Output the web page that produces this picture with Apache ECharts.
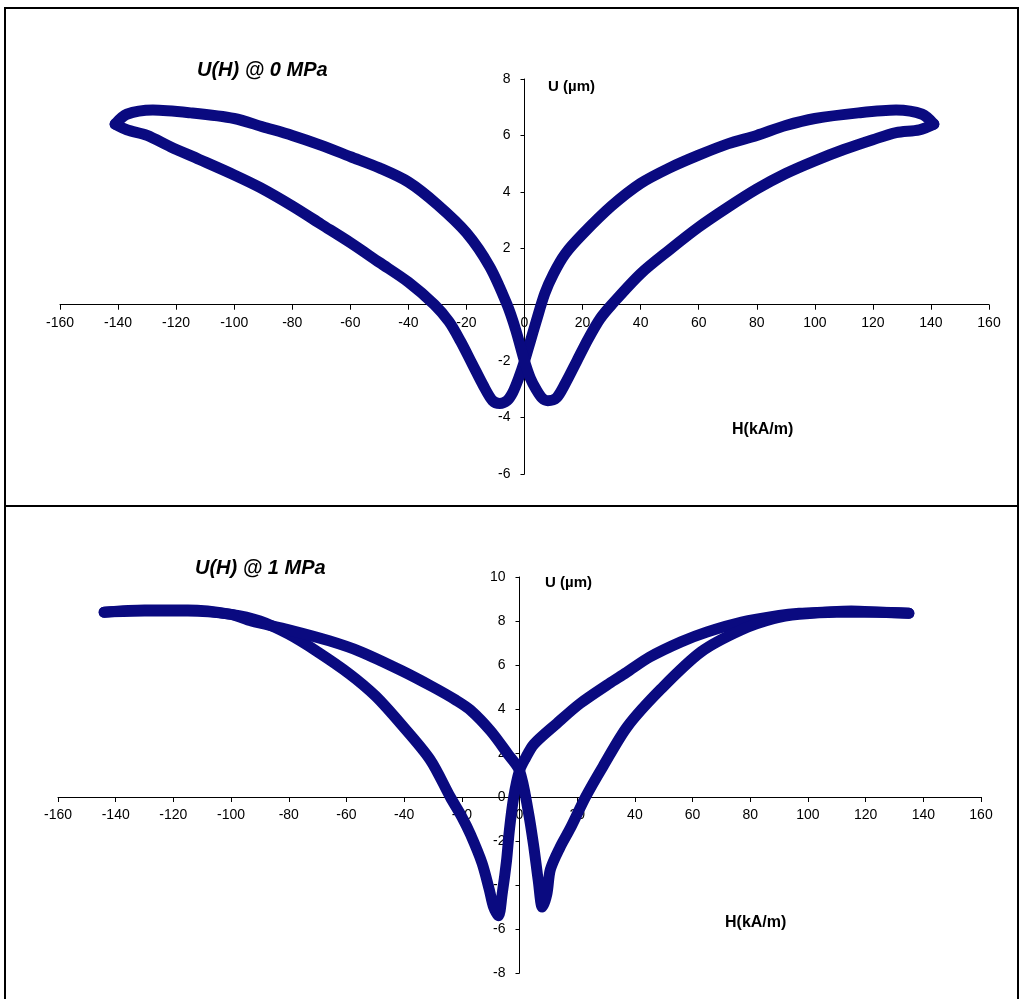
<!DOCTYPE html>
<html>
<head>
<meta charset="utf-8">
<title>U(H) butterfly loops</title>
<script src="https://cdn.jsdelivr.net/npm/echarts@6/dist/echarts.min.js"></script>
<style>
  html, body { margin: 0; padding: 0; background: #fff; }
  #chart { width: 1019px; height: 999px; }
</style>
</head>
<body>
<div id="chart"></div>
<script>
// ---- data ----
// top panel, 0 MPa: field decreasing (+H -> -H)
const top0DownH = [141, 137, 128, 115, 100, 90, 80, 70, 60, 50, 40, 30, 20, 14, 10, 7, 4, 2, 0, -2, -4, -6, -8.5, -11, -14, -18, -22, -26, -31, -40, -50, -60, -70, -80, -91, -100, -112, -122, -130, -137, -141];
const top0DownU = [6.4, 6.75, 6.9, 6.8, 6.6, 6.35, 6.0, 5.7, 5.3, 4.85, 4.3, 3.5, 2.5, 1.8, 1.1, 0.4, -0.6, -1.3, -2.0, -2.6, -3.1, -3.4, -3.5, -3.4, -2.9, -2.1, -1.3, -0.6, 0, 0.8, 1.5, 2.2, 2.85, 3.5, 4.15, 4.6, 5.15, 5.6, 6.0, 6.2, 6.4];
// top panel, 0 MPa: field increasing (-H -> +H)
const top0UpH = [-141, -137, -128, -115, -100, -90, -80, -70, -60, -50, -40, -30, -20, -12, -6, -3, 0, 2, 4, 6, 8, 11, 14, 18, 22, 26, 30, 40, 50, 60, 70, 80, 90, 100, 110, 120, 128, 136, 141];
const top0UpU = [6.4, 6.75, 6.9, 6.8, 6.6, 6.3, 6.0, 5.65, 5.25, 4.85, 4.35, 3.55, 2.55, 1.35, 0, -0.9, -2.0, -2.6, -3.0, -3.3, -3.4, -3.3, -2.8, -2.0, -1.2, -0.5, 0, 1.1, 1.95, 2.75, 3.45, 4.1, 4.65, 5.1, 5.5, 5.85, 6.1, 6.2, 6.4];

// bottom panel, 1 MPa: field decreasing
const bot1DownH = [135, 125, 115, 105, 97, 90, 77, 65, 56, 45, 37, 31, 21, 13, 5, 2, 0, -2, -3.5, -4.5, -6, -7.3, -9, -10.5, -13, -17, -20, -24, -31, -41, -50, -59, -70, -80, -90, -100, -115, -130, -144];
const bot1DownU = [8.35, 8.4, 8.45, 8.4, 8.35, 8.25, 7.95, 7.5, 7.05, 6.35, 5.65, 5.15, 4.25, 3.35, 2.4, 1.75, 1.2, 0, -1.5, -2.9, -4.4, -5.4, -5.0, -4.2, -3.0, -1.7, -0.9, 0, 1.7, 3.3, 4.6, 5.6, 6.6, 7.4, 8.0, 8.3, 8.45, 8.45, 8.4];
// bottom panel, 1 MPa: field increasing
const bot1UpH = [-144, -130, -115, -100, -93, -80, -66, -55, -41, -30, -22, -17, -10, -4.3, 0, 3.1, 5, 6.5, 7.9, 9.5, 10.7, 14, 17.7, 22.9, 29, 37.4, 49, 63, 77, 88, 97, 110, 125, 135];
const bot1UpU = [8.4, 8.5, 8.5, 8.3, 8.0, 7.6, 7.1, 6.6, 5.75, 5.0, 4.4, 3.95, 3.0, 2.0, 1.2, -0.7, -2.3, -3.8, -5.0, -4.4, -3.3, -2.3, -1.4, 0, 1.4, 3.2, 4.9, 6.6, 7.6, 8.1, 8.3, 8.4, 8.4, 8.35];

const hTicks = { min: -160, max: 160, step: 20 };
const topUTicks = { min: -6, max: 8, step: 2 };
const botUTicks = { min: -8, max: 10, step: 2 };

const titles = ['U(H) @ 0 MPa', 'U(H) @ 1 MPa'];
const uName = 'U (µm)';
const hName = 'H(kA/m)';

// ---- helpers ----
const zip = (xs, ys) => xs.map((x, i) => [x, ys[i]]);
const FONT = 'Arial, "Liberation Sans", sans-serif';
const NAVY = '#0a0a80';

const grids = [
  { left: 60, top: 79, width: 929, height: 395 },
  { left: 58, top: 577, width: 923, height: 396 }
];
const uTicks = [topUTicks, botUTicks];

// the axes cross at (0,0): shift them in from the grid edges
const xOffset = (i) => -grids[i].height * (0 - uTicks[i].min) / (uTicks[i].max - uTicks[i].min);
const yOffset = (i) => -grids[i].width * (0 - hTicks.min) / (hTicks.max - hTicks.min);

const axisCommon = {
  axisLine: { onZero: false, lineStyle: { color: '#000', width: 1 } },
  axisTick: { show: true, length: 5, lineStyle: { color: '#000' } },
  splitLine: { show: false },
  axisLabel: { color: '#000', fontFamily: FONT, fontSize: 14, showMinLabel: true, showMaxLabel: true, hideOverlap: false }
};

const xAxis = (i) => Object.assign({}, axisCommon, {
  type: 'value', gridIndex: i, position: 'bottom', offset: xOffset(i),
  min: hTicks.min, max: hTicks.max, interval: hTicks.step,
  axisLabel: Object.assign({}, axisCommon.axisLabel, { margin: 11 })
});
const yAxis = (i) => Object.assign({}, axisCommon, {
  type: 'value', gridIndex: i, position: 'left', offset: yOffset(i),
  min: uTicks[i].min, max: uTicks[i].max, interval: uTicks[i].step,
  axisTick: Object.assign({}, axisCommon.axisTick, { length: 4 }),
  axisLabel: Object.assign({}, axisCommon.axisLabel, { margin: 14 })
});

const loop = (data, i) => ({
  type: 'line',
  xAxisIndex: i, yAxisIndex: i,
  data,
  showSymbol: false,
  smooth: 0.3,
  silent: true,
  lineStyle: { color: NAVY, width: 11, cap: 'round', join: 'round' }
});

const label = (text, left, top, size, italic) => ({
  text, left, top, padding: 0,
  textStyle: { fontFamily: FONT, fontSize: size, fontWeight: 'bold', fontStyle: italic ? 'italic' : 'normal', color: '#000' }
});

const chart = echarts.init(document.getElementById('chart'), null, { renderer: 'canvas' });

chart.setOption({
  backgroundColor: '#fff',
  animation: false,
  title: [
    label(titles[0], 197, 60, 20, true),
    label(titles[1], 195, 558, 20, true),
    label(uName, 548, 79, 15, false),
    label(uName, 545, 575, 15, false),
    label(hName, 732, 422, 16, false),
    label(hName, 725, 915, 16, false)
  ],
  grid: grids,
  xAxis: [xAxis(0), xAxis(1)],
  yAxis: [yAxis(0), yAxis(1)],
  series: [
    loop(zip(top0DownH, top0DownU), 0),
    loop(zip(top0UpH, top0UpU), 0),
    loop(zip(bot1DownH, bot1DownU), 1),
    loop(zip(bot1UpH, bot1UpU), 1)
  ],
  graphic: [
    { type: 'rect', shape: { x: 5, y: 8, width: 1013, height: 1000 }, style: { fill: null, stroke: '#000', lineWidth: 2 }, silent: true },
    { type: 'line', shape: { x1: 5, y1: 506, x2: 1018, y2: 506 }, style: { stroke: '#000', lineWidth: 2 }, silent: true }
  ]
});
</script>
</body>
</html>
